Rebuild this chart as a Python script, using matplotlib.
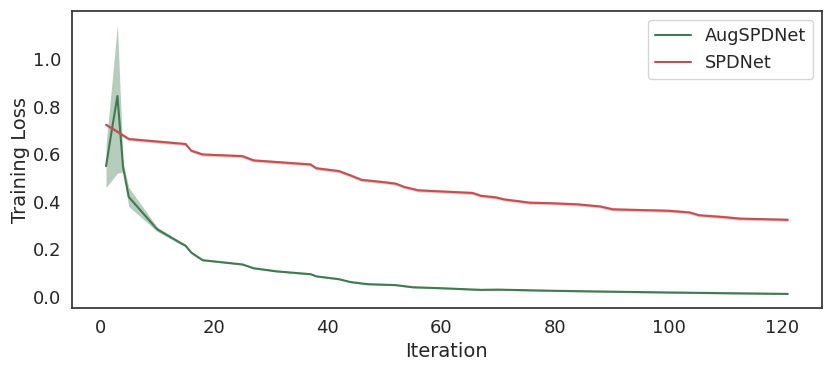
import matplotlib
matplotlib.use("Agg")
import matplotlib.pyplot as plt
import seaborn as sns
import numpy as np

sns.set_theme(style="white", context="notebook", font_scale=1.1)
plt.rcParams['font.family'] = ['DejaVu Sans']

# AugSPDNet (mean and confidence band)
aug_x = [1, 2, 3, 4, 5, 10, 14, 15, 16, 18, 25, 27, 31, 37, 38, 42, 44, 47, 52, 55, 60, 67, 70, 80, 91, 100, 110, 121]
aug_y = [0.55, 0.70, 0.845, 0.545, 0.42, 0.284, 0.228, 0.215, 0.186, 0.154, 0.136, 0.12, 0.107, 0.095, 0.086, 0.074, 0.062, 0.053, 0.049, 0.040, 0.036, 0.029, 0.030, 0.025, 0.021, 0.018, 0.015, 0.012]
aug_lo = [0.46, 0.49, 0.52, 0.525, 0.38, 0.275, 0.222, 0.210, 0.182, 0.151, 0.133, 0.117, 0.104, 0.092, 0.083, 0.071, 0.059, 0.050, 0.046, 0.037, 0.033, 0.026, 0.027, 0.022, 0.018, 0.015, 0.012, 0.009]
aug_hi = [0.64, 0.89, 1.146, 0.565, 0.46, 0.293, 0.234, 0.220, 0.190, 0.157, 0.139, 0.123, 0.110, 0.098, 0.089, 0.077, 0.065, 0.056, 0.052, 0.043, 0.039, 0.032, 0.033, 0.028, 0.024, 0.021, 0.018, 0.015]

# SPDNet
spd_x = [1, 3, 5, 15, 16, 18, 25, 27, 37, 38, 42, 44, 46, 50, 52, 53.5, 56, 65.5, 67, 69.7, 71, 74, 75.5, 79, 84, 88, 90.2, 100, 103.7, 105.4, 109.5, 112.5, 121]
spd_y = [0.724, 0.695, 0.664, 0.643, 0.615, 0.599, 0.592, 0.574, 0.557, 0.541, 0.529, 0.511, 0.492, 0.482, 0.476, 0.462, 0.448, 0.437, 0.425, 0.418, 0.410, 0.401, 0.396, 0.394, 0.389, 0.380, 0.368, 0.362, 0.355, 0.343, 0.336, 0.329, 0.324]
spd_band = 0.007

green = "#3f7a50"
red = "#c44e52"

fig = plt.figure(figsize=(8.31, 3.69), dpi=100)
ax = fig.add_axes([0.0866, 0.165, 0.9024, 0.805])

ax.fill_between(aug_x, aug_lo, aug_hi, color=green, alpha=0.38, linewidth=0)
ax.plot(aug_x, aug_y, color=green, lw=1.5, label="AugSPDNet")

spd_y_arr = np.array(spd_y)
ax.fill_between(spd_x, spd_y_arr - spd_band, spd_y_arr + spd_band, color=red, alpha=0.3, linewidth=0)
ax.plot(spd_x, spd_y, color=red, lw=1.5, label="SPDNet")

ax.set_xlabel("Iteration", fontsize=14)
ax.set_ylabel("Training Loss", fontsize=14, labelpad=2)
ax.set_xticks([0, 20, 40, 60, 80, 100, 120])
ax.set_yticks([0.0, 0.2, 0.4, 0.6, 0.8, 1.0])
ax.tick_params(axis='both', labelsize=13, pad=1.5)
ax.margins(x=0.05, y=0.05)
for s in ax.spines.values():
    s.set_color("#333333")
    s.set_linewidth(1.25)
ax.legend(loc="upper right", fontsize=12.7)

fig.savefig("out.png", dpi=100)
